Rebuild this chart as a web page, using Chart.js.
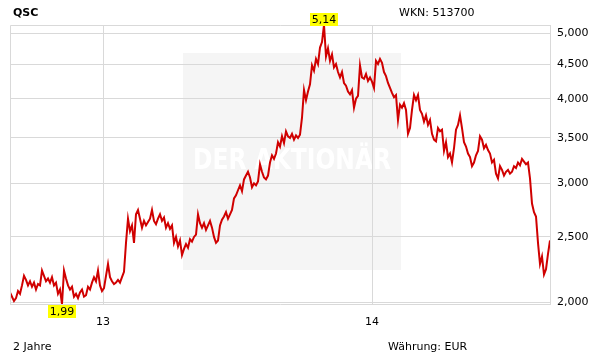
<!DOCTYPE html>
<html>
<head>
<meta charset="utf-8">
<script src="https://cdn.jsdelivr.net/npm/chart.js@4/dist/chart.umd.min.js"></script>
<style>
  html, body { margin: 0; padding: 0; background: #fff; }
  #wrap { width: 611px; height: 364px; position: relative; }
</style>
</head>
<body>
<div id="wrap"><canvas id="kurs" width="611" height="364"></canvas></div>
<script>
// QSC, 2 Jahre, Kurs in EUR (ca. alle 2-3 Handelstage)
var prices = [
  2.07, 2.04, 2.01, 2.03, 2.08, 2.06, 2.12, 2.19, 2.16, 2.12,
  2.15, 2.11, 2.14, 2.09, 2.13, 2.12, 2.23, 2.19, 2.15, 2.17,
  2.14, 2.18, 2.12, 2.14, 2.06, 2.09, 1.99, 2.23, 2.17, 2.12,
  2.09, 2.11, 2.04, 2.06, 2.03, 2.07, 2.09, 2.04, 2.05, 2.11,
  2.09, 2.14, 2.18, 2.15, 2.23, 2.12, 2.08, 2.10, 2.19, 2.28,
  2.18, 2.15, 2.13, 2.14, 2.16, 2.14, 2.18, 2.22, 2.45, 2.66,
  2.55, 2.60, 2.45, 2.70, 2.74, 2.66, 2.58, 2.64, 2.60, 2.63,
  2.66, 2.74, 2.64, 2.61, 2.66, 2.70, 2.64, 2.67, 2.58, 2.62,
  2.57, 2.60, 2.45, 2.50, 2.42, 2.47, 2.35, 2.40, 2.44, 2.41,
  2.48, 2.46, 2.50, 2.52, 2.70, 2.62, 2.58, 2.62, 2.56, 2.60,
  2.64, 2.58, 2.50, 2.45, 2.47, 2.60, 2.65, 2.68, 2.72, 2.66,
  2.70, 2.74, 2.85, 2.88, 2.93, 2.98, 2.92, 3.04, 3.08, 3.12,
  3.06, 2.96, 3.00, 2.98, 3.02, 3.20, 3.12, 3.06, 3.04, 3.08,
  3.22, 3.30, 3.26, 3.32, 3.45, 3.40, 3.52, 3.44, 3.58, 3.52,
  3.50, 3.55, 3.48, 3.53, 3.50, 3.54, 3.75, 4.12, 3.98, 4.10,
  4.20, 4.48, 4.40, 4.58, 4.50, 4.76, 4.85, 5.14, 4.62, 4.75,
  4.55, 4.65, 4.45, 4.50, 4.38, 4.30, 4.38, 4.22, 4.18, 4.10,
  4.06, 4.12, 3.88, 4.00, 4.04, 4.48, 4.30, 4.28, 4.35, 4.25,
  4.30, 4.24, 4.15, 4.55, 4.50, 4.58, 4.52, 4.38, 4.32, 4.22,
  4.15, 4.08, 4.02, 4.05, 3.72, 3.92, 3.88, 3.94, 3.85, 3.55,
  3.62, 3.85, 4.05, 3.98, 4.05, 3.85, 3.80, 3.70, 3.78, 3.66,
  3.72, 3.55, 3.48, 3.46, 3.62, 3.58, 3.60, 3.35, 3.45, 3.28,
  3.32, 3.22, 3.38, 3.60, 3.66, 3.78, 3.62, 3.45, 3.40, 3.32,
  3.28, 3.18, 3.22, 3.30, 3.35, 3.52, 3.48, 3.38, 3.42, 3.36,
  3.32, 3.22, 3.25, 3.10, 3.05, 3.18, 3.14, 3.08, 3.12, 3.14,
  3.10, 3.12, 3.18, 3.16, 3.22, 3.19, 3.26, 3.23, 3.20, 3.22,
  3.05, 2.80, 2.72, 2.68, 2.45, 2.28, 2.34, 2.20, 2.24, 2.36,
  2.47
];
var yearTicks = [46.5, 181];
var yearLabels = ['13', '14'];
var priceTicks = [2, 2.5, 3, 3.5, 4, 4.5, 5];

var FONT = 'DejaVu Sans';
var GRID = '#d9d9d9';

function fmt(v, d) { return v.toFixed(d).replace('.', ','); }

var points = [];
for (var i = 0; i < prices.length; i++) points.push({x: i, y: prices[i]});

var deko = {
  id: 'deko',
  beforeDraw: function(chart) {
    var c = chart.ctx;
    c.save();
    c.fillStyle = '#fff';
    c.fillRect(0, 0, chart.width, chart.height);
    // Wasserzeichen
    c.fillStyle = '#f5f5f5';
    c.fillRect(183, 53, 218, 217);
    c.fillStyle = '#ffffff';
    c.font = 'bold 28px ' + FONT;
    c.textBaseline = 'middle';
    var txt = 'DER AKTIONÄR';
    var w = c.measureText(txt).width;
    c.translate(193, 162);
    c.scale(198 / w, 1);
    c.fillText(txt, 0, 0);
    c.restore();
  },
  afterDraw: function(chart) {
    var c = chart.ctx, a = chart.chartArea;
    var xs = chart.scales.x, ys = chart.scales.y;
    c.save();
    c.strokeStyle = GRID;
    c.lineWidth = 1;
    c.beginPath();
    c.moveTo(a.left + 0.5, a.bottom);
    c.lineTo(a.left + 0.5, a.top + 0.5);
    c.lineTo(a.right, a.top + 0.5);
    c.stroke();

    c.fillStyle = '#000';
    c.textBaseline = 'middle';
    c.font = 'bold 11px ' + FONT;
    c.fillText('QSC', 13, 13);
    c.font = '11px ' + FONT;
    c.fillText('WKN: 513700', 399, 13);
    c.fillText('2 Jahre', 13, 347);
    c.fillText('Währung: EUR', 388, 347);

    // Hoch / Tief markieren
    var hi = 0, lo = 0;
    for (var i = 1; i < prices.length; i++) {
      if (prices[i] > prices[hi]) hi = i;
      if (prices[i] < prices[lo]) lo = i;
    }
    function box(val, px, yc) {
      var t = fmt(val, 2);
      var tw = c.measureText(t).width + 4;
      c.fillStyle = '#ffff00';
      c.fillRect(Math.round(px - tw / 2), yc - 6, Math.round(tw), 13);
      c.fillStyle = '#000';
      c.textAlign = 'center';
      c.fillText(t, px, yc + 1);
      c.textAlign = 'left';
    }
    box(prices[hi], xs.getPixelForValue(hi), 19);
    box(prices[lo], xs.getPixelForValue(lo), 311);
    c.restore();
  }
};

new Chart(document.getElementById('kurs'), {
  type: 'line',
  data: {
    datasets: [{
      data: points,
      borderColor: '#d00000',
      borderWidth: 2,
      pointRadius: 0,
      tension: 0,
      fill: false
    }]
  },
  options: {
    responsive: false,
    animation: false,
    layout: { padding: { left: 10, top: 25, right: 0, bottom: 0 } },
    plugins: { legend: { display: false }, tooltip: { enabled: false } },
    scales: {
      x: {
        type: 'linear',
        min: 0,
        max: prices.length - 1,
        afterBuildTicks: function(s) {
          s.ticks = yearTicks.map(function(v) { return {value: v}; });
        },
        afterFit: function(s) { s.height = 60; },
        ticks: {
          autoSkip: false,
          maxRotation: 0,
          padding: 12,
          color: '#000',
          font: { family: FONT, size: 11 },
          callback: function(v) {
            var k = yearTicks.indexOf(v);
            return k >= 0 ? yearLabels[k] : '';
          }
        },
        grid: { color: GRID, drawTicks: false },
        border: { color: GRID }
      },
      y: {
        type: 'logarithmic',
        position: 'right',
        min: 1.99,
        max: 5.14,
        afterBuildTicks: function(s) {
          s.ticks = priceTicks.map(function(v) { return {value: v}; });
        },
        afterFit: function(s) { s.width = 61; },
        ticks: {
          padding: 7,
          color: '#000',
          font: { family: FONT, size: 11 },
          callback: function(v) { return fmt(v, 3); }
        },
        grid: { color: GRID, drawTicks: false },
        border: { color: GRID }
      }
    }
  },
  plugins: [deko]
});
</script>
</body>
</html>
